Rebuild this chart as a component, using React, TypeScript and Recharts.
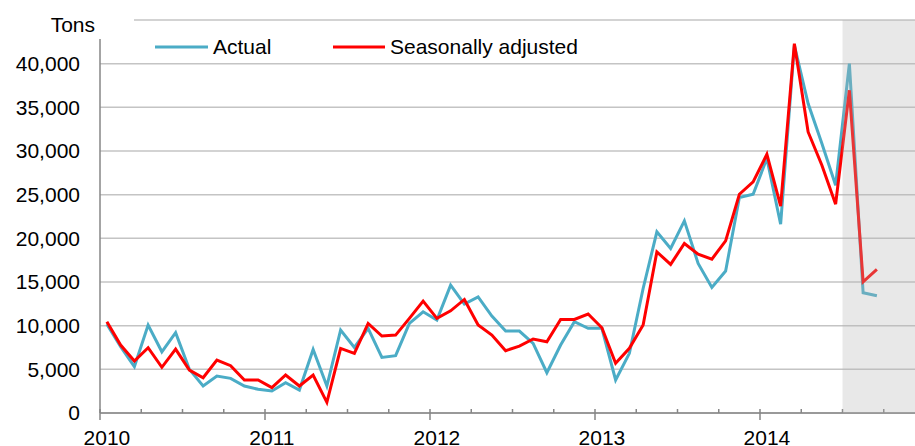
import React from "react";
import { ComposedChart, Line, XAxis, YAxis, CartesianGrid, ReferenceArea } from "recharts";

const actual = [10180, 7600, 5300, 10070, 7010, 9190, 5000, 3090, 4230, 3970, 3090, 2710, 2520, 3470, 2630, 7280, 3090, 9500, 7500, 9690, 6370, 6560, 10260, 11590, 10640, 14640, 12470, 13300, 11100, 9380, 9380, 7970, 4610, 7780, 10450, 9690, 9690, 3780, 6830, 14260, 20740, 18840, 22000, 17130, 14380, 16250, 24680, 25050, 29140, 21620, 42100, 35430, 30850, 26080, 40010, 13760, 13420];
const adjusted = [10445, 7780, 5950, 7470, 5230, 7320, 4920, 4040, 6060, 5420, 3780, 3780, 2900, 4350, 3090, 4350, 1220, 7400, 6830, 10260, 8810, 8920, 10830, 12810, 10830, 11700, 13000, 10070, 8920, 7130, 7660, 8470, 8160, 10720, 10720, 11330, 9760, 5690, 7400, 10070, 18450, 17010, 19410, 18190, 17620, 19710, 25050, 26460, 29630, 23680, 42290, 32180, 28370, 23910, 36950, 15020, 16440];
const yearLabels = ["2010", "2011", "2012", "2013", "2014"];
const yTicks = [0, 5000, 10000, 15000, 20000, 25000, 30000, 35000, 40000, 45000];
const xTicks = Array.from({ length: 21 }, (_, i) => i * 3);

const data = actual.map((a, i) => ({ m: i + 0.5, actual: a, adjusted: adjusted[i] }));

const FONT = "'Liberation Sans', Arial, sans-serif";
const AXIS = "#868686";

const XTick = (props: any) => {
  const { x, y, payload } = props;
  const v = payload.value as number;
  const isYear = v % 12 === 0;
  const label = isYear ? yearLabels[v / 12] : undefined;
  return (
    <g>
      <line x1={x} x2={x} y1={y - 4} y2={isYear ? y + 7 : y} stroke={AXIS} strokeWidth={1.5} />
      {label && (
        <text x={x + 6.9} y={y + 32} textAnchor="middle" fontFamily={FONT} fontSize={21} fill="#000">
          {label}
        </text>
      )}
    </g>
  );
};

export default function App() {
  return (
    <div style={{ position: "absolute", left: 0, top: 0, width: 915, height: 446, overflow: "hidden", background: "#fff" }}>
      <ComposedChart width={930} height={446} data={data} margin={{ top: 20, right: 5, bottom: 0, left: 0 }}>
        <CartesianGrid vertical={false} stroke="#c4c4c4" strokeWidth={1.5} />
        <XAxis
          dataKey="m"
          type="number"
          domain={[0, 60]}
          ticks={xTicks}
          interval={0}
          height={33}
          tickSize={0}
          tickMargin={0}
          tickLine={false}
          tick={<XTick />}
          axisLine={{ stroke: AXIS, strokeWidth: 1.5 }}
        />
        <YAxis
          type="number"
          domain={[0, 45000]}
          ticks={yTicks}
          interval={0}
          width={100}
          tickSize={0}
          tickMargin={20}
          tickLine={false}
          axisLine={{ stroke: AXIS, strokeWidth: 1.5 }}
          tick={{ fontFamily: FONT, fontSize: 21, fill: "#000" }}
          tickFormatter={(v: number) => (v === 45000 ? "" : v.toLocaleString("en-US"))}
        />
        <Line dataKey="actual" type="linear" stroke="#4bacc6" strokeWidth={3} dot={false} isAnimationActive={false} />
        <Line dataKey="adjusted" type="linear" stroke="#ff0000" strokeWidth={3} dot={false} isAnimationActive={false} />
        <ReferenceArea x1={54} x2={60} fill="#b4b4b4" fillOpacity={0.3} stroke="none" ifOverflow="hidden" zIndex={2000} />
      </ComposedChart>
      <svg width={915} height={446} style={{ position: "absolute", left: 0, top: 0, pointerEvents: "none" }}>
        <rect x={0} y={0} width={134} height={39} fill="#fff" />
        <text x={95} y={31.5} textAnchor="end" fontFamily={FONT} fontSize={21} fill="#000">Tons</text>
        <line x1={155} x2={208} y1={47} y2={47} stroke="#4bacc6" strokeWidth={3} />
        <text x={213} y={54} fontFamily={FONT} fontSize={21} fill="#000">Actual</text>
        <line x1={333} x2={385} y1={47} y2={47} stroke="#ff0000" strokeWidth={3} />
        <text x={390} y={54} fontFamily={FONT} fontSize={21} fill="#000">Seasonally adjusted</text>
      </svg>
    </div>
  );
}
